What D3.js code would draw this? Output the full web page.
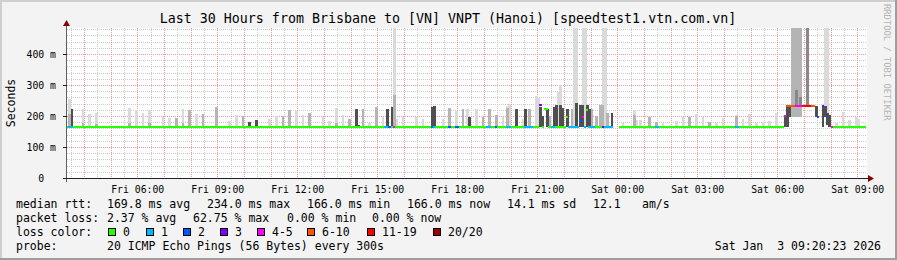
<!DOCTYPE html>
<html lang="en">
<head>
<meta charset="UTF-8">
<title>SmokePing - VNPT (Hanoi)</title>
<style>
    body { margin: 0; background: #f3f3f3; }
    svg text { font-family: "DejaVu Sans Mono", monospace; white-space: pre; fill: #000; }
</style>
<script src="https://d3js.org/d3.v7.min.js"></script>
</head>
<body>
<svg id="chart" width="897" height="260"></svg>
<script>
// ---- chart data ----
const title = "Last 30 Hours from Brisbane to [VN] VNPT (Hanoi) [speedtest1.vtn.com.vn]";
const timeRange = ["02 03:22", "03 09:22"];
const yMax = 484;      // ms at top of plot
const yLabel = "Seconds";
const stepMinutes = 5;

const lossColors = ["#26ff00", "#00b8ff", "#0059ff", "#7e00ff", "#ff00fe", "#ff5500", "#ff0000", "#a10000"];
const lossLabels = ["0", "1", "2", "3", "4-5", "6-10", "11-19", "20/20"];

// median rtt runs: [from, to, ms, loss class]
const medianRuns = [
    ["02 03:20", "02 03:25", 166, 0],
    ["02 03:25", "02 03:35", 166, 1],
    ["02 03:35", "02 15:15", 166, 0],
    ["02 15:15", "02 15:25", 166, 1],
    ["02 15:25", "02 15:30", 166, 2],
    ["02 15:30", "02 15:35", 166, 0],
    ["02 15:35", "02 15:40", 166, 4],
    ["02 15:40", "02 17:00", 166, 0],
    ["02 17:00", "02 17:05", 166, 2],
    ["02 17:05", "02 17:10", 166, 1],
    ["02 17:10", "02 17:40", 166, 0],
    ["02 17:40", "02 17:45", 166, 2],
    ["02 17:45", "02 17:55", 166, 0],
    ["02 17:55", "02 18:05", 166, 2],
    ["02 18:05", "02 19:05", 166, 0],
    ["02 19:05", "02 19:15", 166, 1],
    ["02 19:15", "02 19:25", 166, 0],
    ["02 19:25", "02 19:30", 166, 2],
    ["02 19:30", "02 19:50", 166, 0],
    ["02 19:50", "02 20:00", 166, 1],
    ["02 20:00", "02 20:30", 166, 0],
    ["02 20:30", "02 20:50", 166, 1],
    ["02 20:50", "02 21:05", 166, 0],
    ["02 21:05", "02 21:10", 235, 3],
    ["02 21:10", "02 21:15", 166, 0],
    ["02 21:15", "02 21:25", 222, 0],
    ["02 21:25", "02 21:30", 166, 0],
    ["02 21:30", "02 21:40", 166, 1],
    ["02 21:40", "02 22:05", 166, 0],
    ["02 22:05", "02 22:10", 198, 0],
    ["02 22:10", "02 22:35", 166, 1],
    ["02 22:35", "02 22:40", 185, 2],
    ["02 22:40", "02 22:45", 198, 4],
    ["02 22:45", "02 22:50", 166, 1],
    ["02 22:50", "02 22:55", 219, 0],
    ["02 22:55", "02 23:10", 166, 1],
    ["02 23:10", "02 23:25", 166, 0],
    ["02 23:25", "02 23:30", 166, 3],
    ["02 23:30", "02 23:50", 166, 1],
    ["03 00:05", "03 01:25", 166, 0],
    ["03 01:25", "03 01:35", 166, 1],
    ["03 01:35", "03 04:25", 166, 0],
    ["03 04:25", "03 04:35", 166, 1],
    ["03 04:35", "03 06:15", 166, 0],
    ["03 06:15", "03 06:20", 200, 4],
    ["03 06:20", "03 06:40", 232, 5],
    ["03 06:40", "03 06:55", 232, 4],
    ["03 06:55", "03 07:15", 232, 6],
    ["03 07:15", "03 07:25", 232, 5],
    ["03 07:30", "03 07:35", 198, 2],
    ["03 07:40", "03 07:45", 232, 3],
    ["03 07:50", "03 07:55", 198, 2],
    ["03 08:00", "03 08:05", 166, 4],
    ["03 08:05", "03 09:20", 166, 0]
];

// smoke columns: [time, low ms, high ms, density (L light .. D dark)]
const smoke = [
    ["02 03:25", 164, 255, "L"], ["02 03:25", 164, 205, "M"], ["02 03:30", 164, 222, "D"],
    ["02 03:55", 164, 222, "L"], ["02 03:55", 164, 178, "M"],
    ["02 04:10", 164, 206, "L"],
    ["02 04:25", 164, 210, "L"], ["02 04:25", 164, 174, "M"],
    ["02 05:40", 164, 226, "L"], ["02 05:40", 164, 176, "M"],
    ["02 05:55", 164, 219, "L"],
    ["02 06:10", 164, 210, "L"],
    ["02 06:25", 164, 219, "L"], ["02 06:25", 164, 176, "M"],
    ["02 06:55", 164, 198, "L"],
    ["02 07:10", 164, 194, "L"],
    ["02 07:25", 164, 194, "M"],
    ["02 07:40", 164, 223, "L"], ["02 07:40", 164, 176, "M"],
    ["02 07:55", 164, 219, "M"],
    ["02 08:10", 164, 206, "L"],
    ["02 08:25", 164, 206, "M"],
    ["02 08:55", 164, 230, "M"],
    ["02 09:25", 164, 185, "L"],
    ["02 09:40", 164, 204, "L"],
    ["02 09:55", 164, 200, "M"],
    ["02 10:10", 164, 180, "D"],
    ["02 10:25", 164, 187, "D"],
    ["02 10:55", 164, 191, "L"],
    ["02 11:10", 164, 200, "L"],
    ["02 11:25", 164, 200, "M"],
    ["02 11:40", 164, 219, "M"],
    ["02 11:55", 164, 217, "L"],
    ["02 12:10", 164, 203, "L"],
    ["02 12:25", 164, 211, "M"],
    ["02 12:55", 164, 198, "L"],
    ["02 13:10", 164, 184, "L"],
    ["02 13:25", 164, 226, "L"], ["02 13:25", 164, 178, "M"],
    ["02 13:40", 164, 204, "L"],
    ["02 13:55", 164, 191, "M"],
    ["02 14:10", 164, 222, "D"], ["02 14:15", 164, 172, "D"],
    ["02 14:25", 164, 222, "M"],
    ["02 14:40", 164, 178, "L"],
    ["02 14:55", 164, 229, "M"],
    ["02 15:10", 164, 196, "L"],
    ["02 15:20", 164, 222, "D"],
    ["02 15:30", 164, 229, "D"], ["02 15:35", 164, 483, "L"], ["02 15:35", 164, 268, "M"],
    ["02 15:40", 164, 190, "L"],
    ["02 15:55", 164, 196, "L"],
    ["02 16:25", 164, 196, "L"],
    ["02 16:40", 164, 190, "L"],
    ["02 17:00", 164, 229, "D"], ["02 17:05", 164, 232, "D"],
    ["02 17:25", 164, 190, "L"],
    ["02 17:40", 164, 225, "M"],
    ["02 17:55", 164, 216, "L"],
    ["02 18:10", 164, 222, "M"],
    ["02 18:20", 164, 222, "L"],
    ["02 18:25", 164, 196, "D"],
    ["02 18:40", 164, 222, "L"],
    ["02 18:55", 164, 198, "M"],
    ["02 19:10", 164, 222, "M"],
    ["02 19:25", 164, 203, "M"],
    ["02 19:40", 164, 198, "L"],
    ["02 19:50", 164, 233, "L"], ["02 19:50", 164, 225, "M"],
    ["02 19:55", 164, 238, "L"],
    ["02 20:10", 164, 222, "D"],
    ["02 20:25", 164, 190, "L"],
    ["02 20:30", 164, 222, "D"],
    ["02 20:40", 164, 222, "M"],
    ["02 20:55", 164, 264, "L"],
    ["02 21:00", 164, 257, "L"], ["02 21:05", 164, 229, "D"],
    ["02 21:10", 164, 200, "D"],
    ["02 21:20", 164, 222, "D"],
    ["02 21:25", 164, 200, "M"],
    ["02 21:35", 164, 229, "D"],
    ["02 21:40", 164, 235, "D"],
    ["02 21:45", 164, 278, "L"], ["02 21:50", 164, 300, "L"], ["02 21:50", 164, 235, "D"],
    ["02 21:55", 164, 225, "D"],
    ["02 22:05", 164, 222, "D"],
    ["02 22:15", 164, 222, "M"],
    ["02 22:20", 164, 483, "L"], ["02 22:25", 164, 483, "L"], ["02 22:25", 164, 241, "D"],
    ["02 22:35", 164, 235, "D"],
    ["02 22:40", 164, 483, "L"], ["02 22:45", 164, 483, "L"], ["02 22:40", 164, 235, "D"],
    ["02 22:50", 164, 235, "D"],
    ["02 22:55", 164, 222, "D"],
    ["02 23:00", 164, 222, "M"],
    ["02 23:10", 164, 200, "M"],
    ["02 23:20", 164, 235, "M"],
    ["02 23:25", 164, 483, "L"], ["02 23:30", 164, 483, "L"], ["02 23:25", 164, 235, "M"],
    ["02 23:35", 164, 210, "M"],
    ["02 23:45", 164, 210, "D"],
    ["03 00:10", 164, 176, "L"],
    ["03 00:35", 164, 219, "L"], ["03 00:35", 164, 203, "M"],
    ["03 00:40", 164, 187, "L"],
    ["03 00:50", 164, 187, "L"],
    ["03 01:10", 164, 198, "M"],
    ["03 01:25", 164, 182, "M"],
    ["03 01:40", 164, 178, "L"],
    ["03 02:10", 164, 185, "L"],
    ["03 02:25", 164, 196, "L"],
    ["03 02:40", 164, 196, "M"],
    ["03 02:55", 164, 206, "L"],
    ["03 03:10", 164, 196, "L"],
    ["03 03:25", 164, 182, "M"],
    ["03 03:40", 164, 176, "L"],
    ["03 03:55", 164, 193, "L"],
    ["03 04:25", 164, 204, "L"], ["03 04:25", 164, 200, "M"],
    ["03 04:40", 164, 189, "L"],
    ["03 04:55", 164, 206, "L"],
    ["03 05:10", 164, 178, "L"],
    ["03 05:25", 164, 182, "L"],
    ["03 05:40", 164, 185, "L"],
    ["03 05:55", 164, 211, "L"],
    ["03 06:15", 164, 204, "D"],
    ["03 06:20", 166, 232, "D"],
    ["03 06:25", 198, 232, "D"],
    ["03 06:30", 198, 483, "M"], ["03 06:35", 198, 483, "M"], ["03 06:40", 198, 483, "M"],
    ["03 06:45", 198, 483, "M"], ["03 06:50", 198, 483, "M"],
    ["03 06:40", 232, 284, "S"],
    ["03 06:50", 232, 262, "S"],
    ["03 07:05", 232, 483, "S"],
    ["03 07:25", 198, 232, "D"],
    ["03 07:40", 166, 232, "D"], ["03 07:45", 198, 232, "D"],
    ["03 07:45", 198, 483, "L"], ["03 07:50", 198, 483, "L"],
    ["03 07:50", 172, 210, "D"], ["03 07:55", 166, 204, "D"],
    ["03 08:10", 164, 178, "L"],
    ["03 08:25", 164, 214, "L"],
    ["03 08:40", 164, 187, "L"],
    ["03 08:55", 164, 198, "L"],
    ["03 09:00", 164, 190, "L"]
];

const rttStats = ["median rtt:", "169.8 ms avg", "234.0 ms max", "166.0 ms min", "166.0 ms now", "14.1 ms sd", "12.1", "am/s"];
const lossStats = ["packet loss:", "2.37 % avg", "62.75 % max", "0.00 % min", "0.00 % now"];
const probeText = ["probe:", "20 ICMP Echo Pings (56 Bytes) every 300s"];
const stamp = "Sat Jan  3 09:20:23 2026";
const credit = "RRDTOOL / TOBI OETIKER";

// ---- drawing ----
const W = 897, H = 260;
const plot = { left: 67, right: 867, top: 28, bottom: 178 };
const shadeFill = { L: "#dadada", M: "#b4b4b4", S: "#888888", D: "#4f4f4f" };
const shadeOrder = { L: 0, M: 1, S: 2, D: 3 };

const parseFull = d3.timeParse("%Y-%m-%d %H:%M");
const t = s => parseFull("2026-01-" + s);

const svg = d3.select("#chart");

const x = d3.scaleTime()
    .domain([t(timeRange[0]), t(timeRange[1])])
    .range([plot.left, plot.right]);
const y = d3.scaleLinear()
    .domain([0, yMax])
    .range([plot.bottom, plot.top]);

// background and frame
svg.append("rect").attr("width", W).attr("height", H).attr("fill", "#f3f3f3");
svg.append("path").attr("d", `M0,1H${W}M1,0V${H}`).attr("stroke", "#cfcfcf").attr("stroke-width", 2);
svg.append("path").attr("d", `M0,${H - 1}H${W}M${W - 1},0V${H}`).attr("stroke", "#9e9e9e").attr("stroke-width", 2);

// canvas
svg.append("rect")
    .attr("x", plot.left).attr("y", plot.top)
    .attr("width", plot.right - plot.left).attr("height", plot.bottom - plot.top)
    .attr("fill", "#fff");

// grid
const grid = svg.append("g").attr("shape-rendering", "crispEdges");
const [t0, t1] = x.domain();
const minorTimes = d3.timeMinute.every(30).range(t0, t1);
const majorTimes = d3.timeHour.every(1).range(t0, t1);
const px = v => Math.round(v) + 0.5;

grid.selectAll(".vmin").data(minorTimes).join("line")
    .attr("x1", d => px(x(d))).attr("x2", d => px(x(d)))
    .attr("y1", plot.top).attr("y2", plot.bottom)
    .attr("stroke", "#cccccc").attr("stroke-dasharray", "1,1");
grid.selectAll(".hmin").data(y.ticks(25).filter(v => v > 0)).join("line")
    .attr("x1", plot.left).attr("x2", plot.right)
    .attr("y1", d => px(y(d))).attr("y2", d => px(y(d)))
    .attr("stroke", "#cccccc").attr("stroke-dasharray", "1,1");
grid.selectAll(".vmaj").data(majorTimes).join("line")
    .attr("x1", d => px(x(d))).attr("x2", d => px(x(d)))
    .attr("y1", plot.top).attr("y2", plot.bottom)
    .attr("stroke", "#f29a9a").attr("stroke-dasharray", "1,1");
grid.selectAll(".hmaj").data(y.ticks(5).filter(v => v > 0)).join("line")
    .attr("x1", plot.left).attr("x2", plot.right)
    .attr("y1", d => px(y(d))).attr("y2", d => px(y(d)))
    .attr("stroke", "#f29a9a").attr("stroke-dasharray", "1,1");

// smoke
const stepW = d => x(d3.timeMinute.offset(t(d[0]), stepMinutes)) - x(t(d[0]));
const smokeSorted = smoke.slice().sort((a, b) => shadeOrder[a[3]] - shadeOrder[b[3]]);
svg.append("g").attr("shape-rendering", "crispEdges")
    .selectAll("rect").data(smokeSorted).join("rect")
    .attr("x", d => x(t(d[0])))
    .attr("width", d => stepW(d) + 0.6)
    .attr("y", d => y(Math.min(d[2], yMax)))
    .attr("height", d => y(d[1]) - y(Math.min(d[2], yMax)))
    .attr("fill", d => shadeFill[d[3]]);

// median rtt coloured by loss
svg.append("g").attr("shape-rendering", "crispEdges")
    .selectAll("line").data(medianRuns).join("line")
    .attr("x1", d => x(t(d[0])))
    .attr("x2", d => x(t(d[1])))
    .attr("y1", d => Math.round(y(d[2])))
    .attr("y2", d => Math.round(y(d[2])))
    .attr("stroke", d => lossColors[d[3]])
    .attr("stroke-width", 2);

// axes
const axisG = svg.append("g").attr("shape-rendering", "crispEdges");
axisG.append("line")
    .attr("x1", plot.left - 4).attr("x2", plot.right + 1)
    .attr("y1", plot.bottom + 0.5).attr("y2", plot.bottom + 0.5)
    .attr("stroke", "#202020");
axisG.append("line")
    .attr("x1", plot.left - 0.5).attr("x2", plot.left - 0.5)
    .attr("y1", plot.bottom + 4).attr("y2", plot.top - 3)
    .attr("stroke", "#606060");
svg.append("path")
    .attr("d", `M${plot.right + 1},${plot.bottom - 3}L${plot.right + 7},${plot.bottom + 0.5}L${plot.right + 1},${plot.bottom + 4}Z`)
    .attr("fill", "#8b0000");
svg.append("path")
    .attr("d", `M${plot.left - 4},${plot.top - 2}L${plot.left - 0.5},${plot.top - 8}L${plot.left + 3},${plot.top - 2}Z`)
    .attr("fill", "#8b0000");

// y tick marks and labels
svg.append("g").selectAll("line").data(y.ticks(5)).join("line")
    .attr("x1", plot.left - 4).attr("x2", plot.left)
    .attr("y1", d => px(y(d))).attr("y2", d => px(y(d)))
    .attr("stroke", "#202020").attr("shape-rendering", "crispEdges");
svg.append("g").selectAll("text").data(y.ticks(5)).join("text")
    .attr("x", plot.left - 11)
    .attr("y", d => y(d) + 3.5)
    .attr("text-anchor", "end")
    .style("font-size", "9.8px")
    .text(d => d === 0 ? "0  " : d + " m");

// x labels via d3 axis
const xAxis = d3.axisBottom(x)
    .tickValues(d3.timeHour.every(3).range(t0, t1))
    .tickFormat(d3.timeFormat("%a %H:%M"))
    .tickSize(0)
    .tickPadding(8);
const xg = svg.append("g")
    .attr("transform", `translate(0,${plot.bottom})`)
    .call(xAxis);
xg.select(".domain").remove();
xg.selectAll("text")
    .style("font-family", '"DejaVu Sans Mono", monospace')
    .style("font-size", "9.8px")
    .attr("fill", "#000");

// title
svg.append("text")
    .attr("x", (plot.left + plot.right) / 2 - 19)
    .attr("y", 23)
    .attr("text-anchor", "middle")
    .style("font-size", "13.3px")
    .text(title);

// vertical label
svg.append("text")
    .attr("transform", `translate(15,${(plot.top + plot.bottom) / 2}) rotate(-90)`)
    .attr("text-anchor", "middle")
    .style("font-size", "11.5px")
    .text(yLabel);

// credit
svg.append("text")
    .attr("transform", "translate(884,4) rotate(90)")
    .style("font-size", "8.8px")
    .style("fill", "#b4b4b4")
    .text(credit);

// legend
const legend = svg.append("g").style("font-size", "11.5px");
const rttX = [16, 107, 207, 307, 407, 507, 593, 642];
const lossX = [16, 107, 193, 287, 372];
legend.selectAll(".rtt").data(rttStats).join("text")
    .attr("x", (d, i) => rttX[i]).attr("y", 208).text(d => d);
legend.selectAll(".loss").data(lossStats).join("text")
    .attr("x", (d, i) => lossX[i]).attr("y", 222).text(d => d);
legend.append("text").attr("x", 16).attr("y", 236).text("loss color:");
const swX = [108, 146, 183, 220, 257, 307, 367, 433];
legend.selectAll(".sw").data(lossColors).join("rect")
    .attr("x", (d, i) => swX[i] + 0.5).attr("y", 228.5)
    .attr("width", 7).attr("height", 7)
    .attr("fill", d => d).attr("stroke", "#000").attr("stroke-width", 1)
    .attr("shape-rendering", "crispEdges");
legend.selectAll(".swl").data(lossLabels).join("text")
    .attr("x", (d, i) => swX[i] + 15).attr("y", 236).text(d => d);
legend.append("text").attr("x", 16).attr("y", 250).text(probeText[0]);
legend.append("text").attr("x", 107).attr("y", 250).text(probeText[1]);
legend.append("text").attr("x", 881).attr("y", 250).attr("text-anchor", "end").text(stamp);
</script>
</body>
</html>
